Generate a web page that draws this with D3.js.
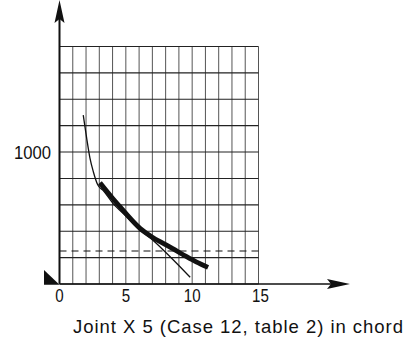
<!DOCTYPE html>
<html><head><meta charset="utf-8">
<script src="https://cdn.jsdelivr.net/npm/d3@7"></script>
<style>body{margin:0;background:#fff}svg{display:block}text{font-family:"Liberation Sans",Arial,sans-serif;fill:#111}</style>
</head><body><svg id="c" width="418" height="339"></svg>
<script>
const xTicks = [0, 5, 10, 15];
const yTicks = [1000];
const xGrid = d3.range(0, 16, 1);
const yGrid = d3.range(0, 1801, 200);
const thinX = [1.79, 2.05, 2.3, 2.55, 2.88, 3.3, 4.0, 5.0, 5.95, 7.0, 7.82, 8.9, 9.85];
const thinY = [1280, 1104, 952, 851, 752, 708, 615, 515, 420, 335, 258, 150, 51];
const thickX = [3.05, 4.0, 4.56, 5.0, 6.07, 7.0, 7.82, 8.5, 9.58, 10.3, 11.2];
const thickY = [767, 650, 586, 535, 422, 355, 308, 270, 207, 168, 126];
const dashedLevel = 250;
const xLabel = "Joint X 5 (Case 12, table 2) in chord";

const svg = d3.select("#c");
const x = d3.scaleLinear().domain([0, 15]).range([59.5, 258.5]);
const y = d3.scaleLinear().domain([0, 1800]).range([284, 46.5]);

svg.append("g").selectAll("line").data(xGrid).join("line")
  .attr("x1", d => x(d)).attr("x2", d => x(d)).attr("y1", y(0)).attr("y2", y(1800))
  .attr("stroke", "#555").attr("stroke-width", 1);
svg.append("g").selectAll("line").data(yGrid).join("line")
  .attr("x1", x(0)).attr("x2", x(15)).attr("y1", d => y(d)).attr("y2", d => y(d))
  .attr("stroke", "#222").attr("stroke-width", 1.1);

svg.append("line").attr("x1", x(0)).attr("x2", x(15)).attr("y1", y(dashedLevel)).attr("y2", y(dashedLevel))
  .attr("stroke", "#111").attr("stroke-width", 1.1).attr("stroke-dasharray", "7,5");

svg.append("line").attr("x1", x(0)).attr("x2", 332).attr("y1", y(0)).attr("y2", y(0))
  .attr("stroke", "#111").attr("stroke-width", 1.6);
svg.append("path").attr("d", `M350,${y(0)} L327,${y(0)-5} L331,${y(0)} L327,${y(0)+5} Z`).attr("fill", "#111");
svg.append("line").attr("x1", x(0)).attr("x2", x(0)).attr("y1", y(0)).attr("y2", 18)
  .attr("stroke", "#111").attr("stroke-width", 2);
svg.append("path").attr("d", `M${x(0)},0 L${x(0)-5},23 L${x(0)},19 L${x(0)+5},23 Z`).attr("fill", "#111");
svg.append("path").attr("d", `M44,270 L44,${y(0)+0.8} L${x(0)},${y(0)+0.8} Z`).attr("fill", "#111");

const line = d3.line().x(d => x(d[0])).y(d => y(d[1])).curve(d3.curveMonotoneX);
svg.append("path").attr("d", line(thinX.map((v, i) => [v, thinY[i]])))
  .attr("fill", "none").attr("stroke", "#111").attr("stroke-width", 1.3);
svg.append("path").attr("d", line(thickX.map((v, i) => [v, thickY[i]])))
  .attr("fill", "none").attr("stroke", "#111").attr("stroke-width", 4.8).attr("stroke-linecap", "butt");

svg.append("g").selectAll("text").data(xTicks).join("text")
  .attr("x", d => x(d) + (d === 15 ? 2 : 0)).attr("y", 302).attr("text-anchor", "middle")
  .attr("font-size", 18).attr("textLength", d => String(d).length * 8.4)
  .attr("lengthAdjust", "spacingAndGlyphs").text(d => d);
svg.append("g").selectAll("text").data(yTicks).join("text")
  .attr("x", 51).attr("y", y(1000) + 6.5).attr("text-anchor", "end")
  .attr("font-size", 18).attr("textLength", 37).attr("lengthAdjust", "spacingAndGlyphs").text(d => d);

svg.append("text").attr("x", 73).attr("y", 333).attr("font-size", 18.5)
  .attr("textLength", 330).attr("lengthAdjust", "spacing").text(xLabel);
</script></body></html>
